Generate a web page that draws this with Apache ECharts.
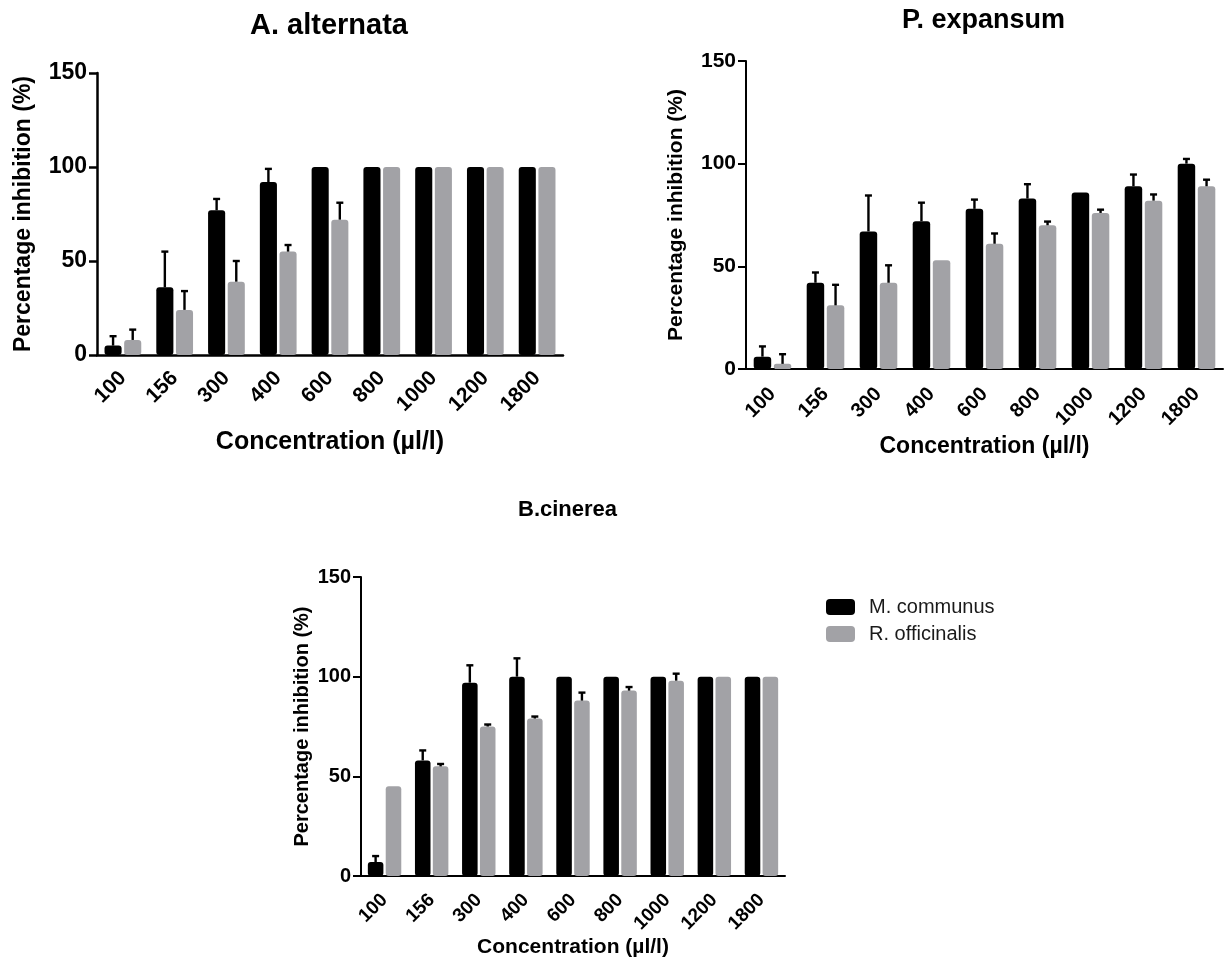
<!DOCTYPE html>
<html>
<head>
<meta charset="utf-8">
<script src="https://cdn.jsdelivr.net/npm/echarts@6/dist/echarts.min.js"></script>
<style>
html,body{margin:0;padding:0;background:#fff;}
#chart{width:1225px;height:965px;}
</style>
</head>
<body>
<div id="chart"></div>
<script>
const categories = ['100', '156', '300', '400', '600', '800', '1000', '1200', '1800'];
const seriesNames = ['M. communus', 'R. officinalis'];
const yTicks = [0, 50, 100, 150];

// A. alternata
const A_communus      = [5, 36, 77, 92, 100, 100, 100, 100, 100];
const A_communus_err  = [5, 19, 6, 7, 0, 0, 0, 0, 0];
const A_officinalis     = [8, 24, 39, 55, 72, 100, 100, 100, 100];
const A_officinalis_err = [5.5, 10, 11, 3.5, 9, 0, 0, 0, 0];

// P. expansum
const B_communus      = [6, 42, 67, 72, 78, 83, 86, 89, 100];
const B_communus_err  = [5, 5, 17.5, 9, 4.5, 7, 0, 5.7, 2.3];
const B_officinalis     = [2.5, 31, 42, 53, 61, 70, 76, 82, 89];
const B_officinalis_err = [4.7, 10, 8.5, 0, 5, 1.8, 1.6, 3, 3.2];

// B. cinerea
const C_communus      = [7, 58, 97, 100, 100, 100, 100, 100, 100];
const C_communus_err  = [3, 5, 8.7, 9.2, 0, 0, 0, 0, 0];
const C_officinalis     = [45, 55, 75, 79, 88, 93, 98, 100, 100];
const C_officinalis_err = [0, 1.2, 1, 1, 4, 1.8, 3.5, 0, 0];

const titles = ['A. alternata', 'P. expansum', 'B.cinerea'];
const xName = 'Concentration (µl/l)';
const yName = 'Percentage inhibition (%)';

const BLACK = '#000000';
const GRAY = '#a2a2a6';
const FONT = "'Liberation Sans', Arial, sans-serif";
const BAR_FRAC = 0.33;
const GAP_FRAC = 0.15;

const panels = [
  {grid:{left:97, top:73, width:466, height:282}, title:{left:250, top:11, size:29},
   m:A_communus, me:A_communus_err, o:A_officinalis, oe:A_officinalis_err,
   yFont:23, yNameFont:23, xNameFont:25, xFont:21, yGap:62, xGap:75, xMargin:20, tickW:2.5},
  {grid:{left:746, top:61, width:477, height:308}, title:{left:902, top:7, size:27},
   m:B_communus, me:B_communus_err, o:B_officinalis, oe:B_officinalis_err,
   yFont:21, yNameFont:21, xNameFont:23, xFont:20, yGap:59, xGap:66, xMargin:22, tickW:2},
  {grid:{left:361, top:577, width:424, height:299}, title:{left:518, top:499, size:22},
   m:C_communus, me:C_communus_err, o:C_officinalis, oe:C_officinalis_err,
   yFont:20, yNameFont:20, xNameFont:21, xFont:19, yGap:49, xGap:59, xMargin:21, tickW:2}
];

function errRender(side) {
  return function (params, api) {
    const e = api.value(2);
    if (!e) return null;
    const idx = api.value(0);
    const v = api.value(1);
    const band = api.size([1, 0])[0];
    const bw = band * BAR_FRAC;
    const gap = bw * GAP_FRAC;
    const off = side * (bw + gap) / 2;
    const base = api.coord([idx, v]);
    const top = api.coord([idx, v + e]);
    const x = base[0] + off;
    const st = {stroke: '#000', lineWidth: 2.4};
    return {
      type: 'group',
      children: [
        {type: 'line', shape: {x1: x, y1: base[1], x2: x, y2: top[1]}, style: st},
        {type: 'line', shape: {x1: x - 3.5, y1: top[1], x2: x + 3.5, y2: top[1]}, style: st}
      ]
    };
  };
}

const option = {
  animation: false,
  backgroundColor: '#fff',
  title: [], grid: [], xAxis: [], yAxis: [], series: [],
  legend: {
    orient: 'vertical', left: 821, top: 592, itemWidth: 29, itemHeight: 16, itemGap: 7,
    icon: 'roundRect',
    data: seriesNames,
    textStyle: {fontFamily: FONT, fontSize: 20, color: '#1a1a1a', padding: [0, 0, 0, 9]}
  }
};

panels.forEach((p, i) => {
  option.title.push({
    text: titles[i], left: p.title.left, top: p.title.top, padding: 0,
    textStyle: {fontFamily: FONT, fontWeight: 'bold', fontSize: p.title.size, color: '#000'}
  });
  option.grid.push(Object.assign({containLabel: false}, p.grid));
  option.xAxis.push({
    type: 'category', gridIndex: i, data: categories,
    name: xName, nameLocation: 'middle', nameGap: p.xGap,
    nameTextStyle: {fontFamily: FONT, fontWeight: 'bold', fontSize: p.xNameFont, color: '#000', verticalAlign: 'top'},
    axisLine: {lineStyle: {color: '#000', width: p.tickW}},
    axisTick: {alignWithLabel: true, length: 7, lineStyle: {color: '#000', width: p.tickW}},
    axisLabel: {rotate: 45, margin: p.xMargin, fontFamily: FONT, fontWeight: 'bold', fontSize: p.xFont, color: '#000', interval: 0},
    splitLine: {show: false}
  });
  option.yAxis.push({
    type: 'value', gridIndex: i, min: yTicks[0], max: yTicks[yTicks.length - 1], interval: 50,
    name: yName, nameLocation: 'middle', nameGap: p.yGap, nameRotate: 90,
    nameTextStyle: {fontFamily: FONT, fontWeight: 'bold', fontSize: p.yNameFont, color: '#000'},
    axisLine: {show: true, lineStyle: {color: '#000', width: p.tickW}},
    axisTick: {show: true, length: 8, lineStyle: {color: '#000', width: p.tickW}},
    axisLabel: {margin: 10, fontFamily: FONT, fontWeight: 'bold', fontSize: p.yFont, color: '#000'},
    splitLine: {show: false}
  });
  const pairs = [[p.m, p.me, BLACK, -1], [p.o, p.oe, GRAY, 1]];
  pairs.forEach((pr, k) => {
    option.series.push({
      type: 'bar', name: seriesNames[k], xAxisIndex: i, yAxisIndex: i,
      data: pr[0], barWidth: (BAR_FRAC * 100) + '%', barGap: (GAP_FRAC * 100) + '%',
      itemStyle: {color: pr[2], borderRadius: 3}, z: 2
    });
  });
  pairs.forEach((pr, k) => {
    option.series.push({
      type: 'custom', name: seriesNames[k] + ' err', xAxisIndex: i, yAxisIndex: i,
      renderItem: errRender(pr[3]),
      data: pr[0].map((v, j) => [j, v, pr[1][j]]),
      encode: {x: 0, y: 1}, z: 5, silent: true
    });
  });
});

const chart = echarts.init(document.getElementById('chart'), null, {renderer: 'canvas'});
chart.setOption(option);
</script>
</body>
</html>
